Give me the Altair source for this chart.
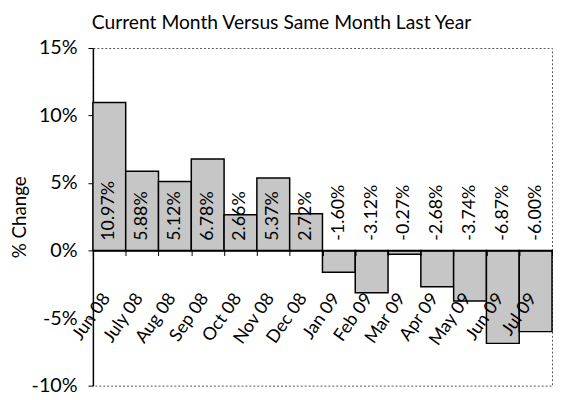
import altair as alt
import pandas as pd

months = ["Jun 08", "July 08", "Aug 08", "Sep 08", "Oct 08", "Nov 08", "Dec 08",
          "Jan 09", "Feb 09", "Mar 09", "Apr 09", "May 09", "Jun 09", "Jul 09"]
changes = [10.97, 5.88, 5.12, 6.78, 2.66, 5.37, 2.72,
           -1.60, -3.12, -0.27, -2.68, -3.74, -6.87, -6.00]
value_labels = ["10.97%", "5.88%", "5.12%", "6.78%", "2.66%", "5.37%", "2.72%",
                "-1.60%", "-3.12%", "-0.27%", "-2.68%", "-3.74%", "-6.87%", "-6.00%"]
y_ticks = [-0.10, -0.05, 0.0, 0.05, 0.10, 0.15]

df = pd.DataFrame({
    "month": months,
    "change": [v / 100 for v in changes],
    "label": value_labels,
})

W, H = 465, 342
FONT = "Lato"

xscale = alt.Scale(paddingInner=0, paddingOuter=0)
yscale = alt.Scale(domain=[-0.10, 0.15], nice=False, zero=False)

x_enc = alt.X(
    "month:N", sort=months, scale=xscale, title=None,
    axis=alt.Axis(
        offset=-H * 0.4, labelAngle=-55, labelAlign="right", labelBaseline="middle",
        labelPadding=40, labelOffset=-3, tickBand="extent", tickSize=5, tickColor="black",
        domainColor="black", domainWidth=1.5, labelFontSize=18, labelFont=FONT,
        labelColor="black", zindex=1, labelOverlap=False,
    ),
)

bars = alt.Chart(df).mark_bar(
    color="#c6c6c6", stroke="black", strokeWidth=1.5
).encode(
    x=x_enc,
    y=alt.Y(
        "change:Q", scale=yscale, title="% Change",
        axis=alt.Axis(
            values=y_ticks, format=".0%", labelExpr="replace(datum.label, '\u2212', '-')",
            grid=False, tickSize=5, tickColor="black",
            domainColor="black", domainWidth=1.5, labelFontSize=20, labelFont=FONT,
            labelColor="black", labelPadding=11, titleFont=FONT, titleFontSize=19,
            titleFontWeight="normal", titleColor="black", titlePadding=2,
        ),
    ),
)

text = alt.Chart(df).mark_text(
    angle=270, align="left", baseline="middle", dx=10, fontSize=18, font=FONT, color="black"
).encode(
    x=alt.X("month:N", sort=months, scale=xscale, title=None),
    y=alt.datum(0),
    text="label:N",
)

chart = alt.layer(bars, text).properties(
    width=W, height=H,
    title=alt.TitleParams(
        "Current Month Versus Same Month Last Year", fontSize=19.5, fontWeight="normal",
        font=FONT, color="black", anchor="middle", frame="bounds", offset=5,
    ),
    padding={"left": 2, "top": 2, "right": 0, "bottom": 0},
).configure_view(
    stroke="#555", strokeDash=[2, 2], strokeWidth=1
)

chart.save("out.html", embed_options={"renderer": "svg", "actions": False})
